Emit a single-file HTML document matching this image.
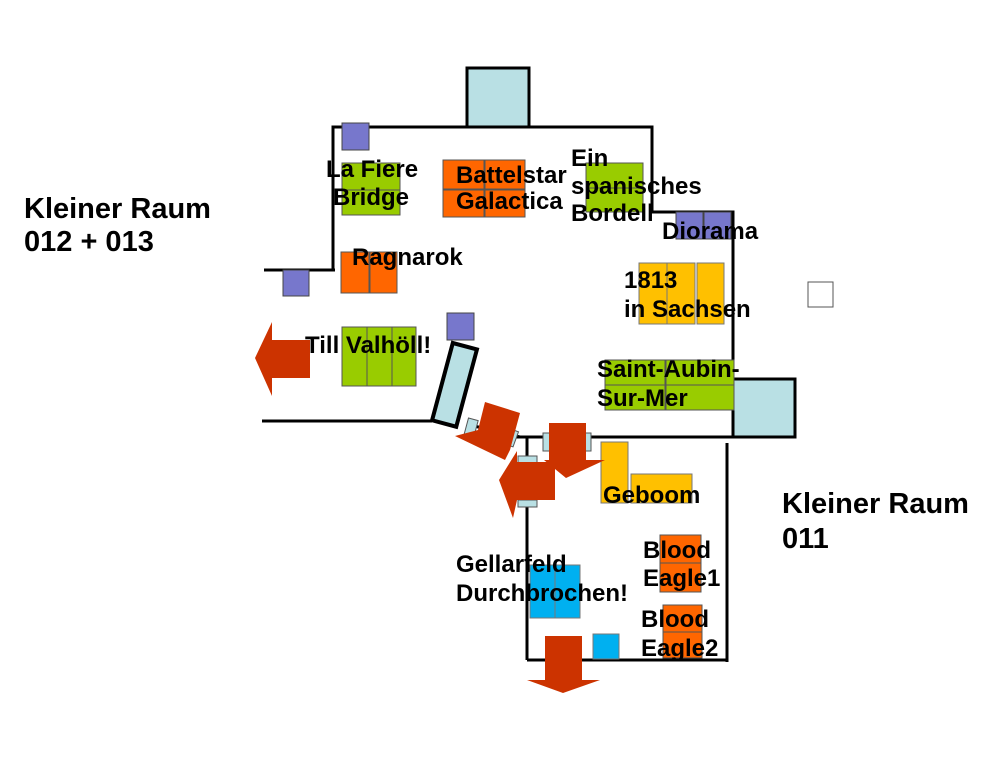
<!DOCTYPE html>
<html><head><meta charset="utf-8"><style>
body{margin:0;background:#fff}
svg text{font-family:"Liberation Sans",Arial,sans-serif;font-weight:bold;font-size:24px;fill:#000}
svg text.big{font-size:29px}
</style></head><body>
<svg width="1000" height="766" viewBox="0 0 1000 766" xmlns="http://www.w3.org/2000/svg">
<g stroke="#000" stroke-width="3" fill="none">
<rect x="467" y="68" width="62" height="59" fill="#b9e0e4"/>
<polyline points="333,270 333,127 652,127 652,212 733,212 733,437"/>
<line x1="264" y1="270" x2="335" y2="270"/>
<line x1="262" y1="421" x2="432" y2="421"/>
<line x1="470" y1="425" x2="520" y2="437"/>
<line x1="515" y1="437" x2="733" y2="437"/>
<rect x="733" y="379" width="62" height="58" fill="#b9e0e4"/>
<line x1="527" y1="437" x2="527" y2="660"/>
<line x1="527" y1="660" x2="728" y2="660"/>
<line x1="727" y1="443" x2="727" y2="662"/>
<rect x="442" y="345" width="25" height="80" fill="#b9e0e4" transform="rotate(15 455 385)" stroke-width="4"/>
</g>
<rect x="808" y="282" width="25" height="25" fill="#fff" stroke="#555"/>
<g fill="#7777cc" stroke="#444" stroke-width="1">
<rect x="342" y="123" width="27" height="27"/>
<rect x="283" y="270" width="26" height="26"/>
<rect x="447" y="313" width="27" height="27"/>
<rect x="676" y="212" width="27" height="27"/>
<rect x="704" y="212" width="27" height="27"/>
</g>
<g fill="#99cc00" stroke="#555" stroke-width="1">
<rect x="342" y="163" width="58" height="27"/><rect x="342" y="190" width="58" height="25"/>
<rect x="586" y="163" width="57" height="25"/><rect x="586" y="188" width="57" height="24"/>
<rect x="342" y="327" width="25" height="59"/><rect x="367" y="327" width="25" height="59"/><rect x="392" y="327" width="24" height="59"/>
<rect x="605" y="360" width="60" height="25"/><rect x="605" y="385" width="60" height="25"/>
<rect x="666" y="360" width="68" height="25"/><rect x="666" y="385" width="68" height="25"/>
</g>
<g fill="#ff6600" stroke="#555" stroke-width="1">
<rect x="443" y="160" width="41" height="29"/><rect x="485" y="160" width="40" height="29"/>
<rect x="443" y="190" width="41" height="27"/><rect x="485" y="190" width="40" height="27"/>
<rect x="341" y="252" width="28" height="41"/><rect x="370" y="252" width="27" height="41"/>
<rect x="660" y="535" width="41" height="28"/><rect x="660" y="563" width="41" height="29"/>
<rect x="663" y="605" width="39" height="27"/><rect x="663" y="632" width="39" height="26"/>
</g>
<g fill="#ffc000" stroke="#777" stroke-width="1">
<rect x="639" y="263" width="28" height="61"/><rect x="667" y="263" width="28" height="61"/><rect x="697" y="263" width="27" height="61"/>
<rect x="601" y="442" width="27" height="61"/><rect x="631" y="474" width="61" height="29"/>
</g>
<g fill="#00b0f0" stroke="#777" stroke-width="1">
<rect x="530" y="565" width="25" height="53"/><rect x="555" y="565" width="25" height="53"/>
<rect x="593" y="634" width="26" height="25"/>
</g>
<g fill="#b9e0e4" stroke="#555" stroke-width="1">
<rect x="466" y="419" width="10" height="18" transform="rotate(15 471 428)"/>
<rect x="509" y="430" width="7" height="16" transform="rotate(20 512 438)"/>
<rect x="543" y="433" width="7" height="18"/><rect x="584" y="433" width="7" height="18"/>
<rect x="518" y="456" width="19" height="7"/><rect x="518" y="500" width="19" height="7"/>
</g>
<g fill="#cc3300">
<polygon points="310,340 272,340 272,322 255,358 272,396 272,378 310,378"/>
<polygon points="545,636 582,636 582,680 600,680 563,693 527,680 545,680"/>
<polygon points="549,423 586,423 586,460 605,460 566,478 544,460 549,460"/>
<polygon points="485,402 520,413 510,450 505,460 455,436 478,430"/>
<polygon points="555,462 517,462 517,451 499,480 513,518 517,500 555,500"/>
</g>
<text class="big" x="24" y="218">Kleiner Raum</text>
<text class="big" x="24" y="251">012 + 013</text>
<text class="big" x="782" y="513">Kleiner Raum</text>
<text class="big" x="782" y="548">011</text>
<text x="326" y="177">La Fiere</text>
<text x="333" y="205">Bridge</text>
<text x="456" y="183">Battelstar</text>
<text x="456" y="209">Galactica</text>
<text x="571" y="166">Ein</text>
<text x="571" y="194">spanisches</text>
<text x="571" y="221">Bordell</text>
<text x="662" y="239">Diorama</text>
<text x="352" y="265">Ragnarok</text>
<text x="624" y="288">1813</text>
<text x="624" y="317">in Sachsen</text>
<text x="305" y="353">Till Valhöll!</text>
<text x="597" y="377">Saint-Aubin-</text>
<text x="597" y="406">Sur-Mer</text>
<text x="603" y="503">Geboom</text>
<text x="643" y="558">Blood</text>
<text x="643" y="586">Eagle1</text>
<text x="456" y="572">Gellarfeld</text>
<text x="456" y="601">Durchbrochen!</text>
<text x="641" y="627">Blood</text>
<text x="641" y="656">Eagle2</text>
</svg>
</body></html>
